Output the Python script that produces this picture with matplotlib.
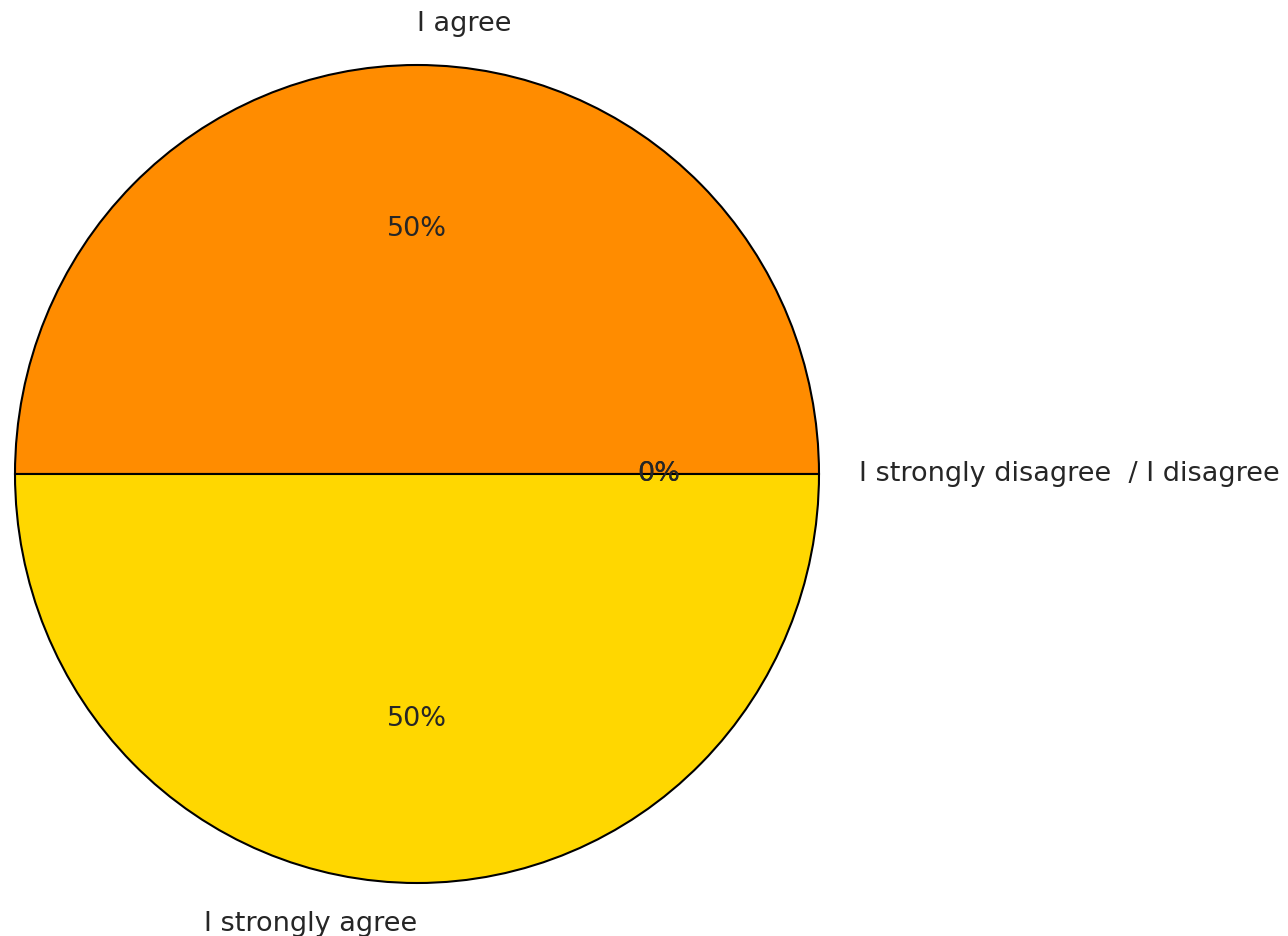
import matplotlib
matplotlib.use("Agg")
import matplotlib.pyplot as plt

# answers and their shares
labels = ["I strongly disagree  / I disagree", "", "I agree", "I strongly agree"]
shares = [0, 0, 50, 50]
colors = ["#d62728", "#ff7f0e", "#FF8C00", "#FFD700"]

fig = plt.figure(figsize=(12.88, 9.36), dpi=100)
# axes placed so the pie sits on the left, labels run out to the right
ax = fig.add_axes([15 / 1288, (936 - 883) / 936, 804 / 1288, 818 / 936])

wedges, texts, autotexts = ax.pie(shares,
                                  labels=labels,
                                  colors=colors,
                                  autopct="%1.0f%%",
                                  startangle=0,
                                  radius=1,
                                  wedgeprops={"edgecolor": "black", "linewidth": 1.5},
                                  textprops={"fontsize": 19.5, "color": "#262626"})

# top label starts at the centre line, bottom label ends at it
texts[2].set_horizontalalignment("left")
texts[3].set_horizontalalignment("right")

ax.set_xlim(-1, 1)
ax.set_ylim(-1, 1)
ax.set_aspect("auto")

fig.savefig("out.png", dpi=100)
